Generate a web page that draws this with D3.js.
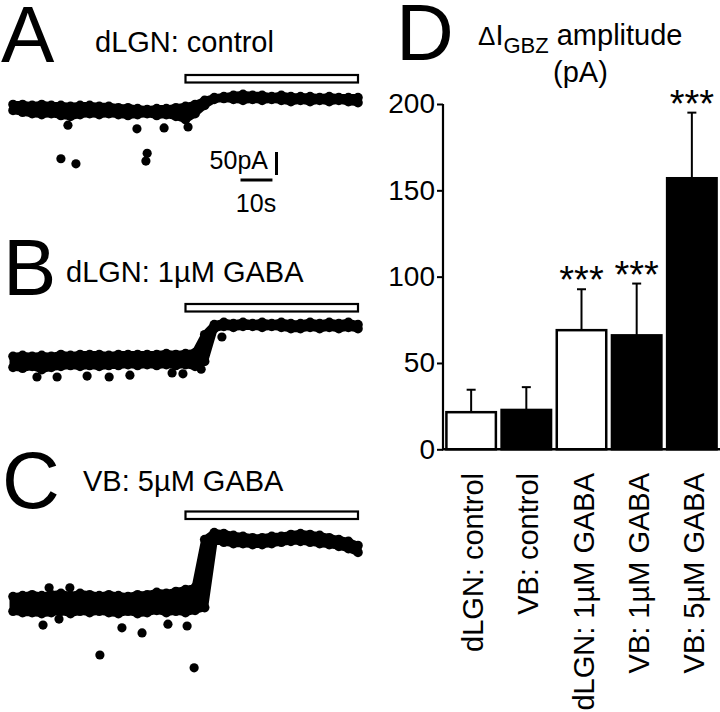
<!DOCTYPE html>
<html><head><meta charset="utf-8">
<script src="https://cdn.jsdelivr.net/npm/d3@7"></script>
<style>
body{margin:0;background:#fff}
svg{display:block}
text{font-family:"Liberation Sans",Arial,sans-serif;fill:#000}
</style>
</head><body>
<svg id="c" width="720" height="712"></svg>
<script>
// ---------- trace data (time in s, current in pA relative to baseline) ----------
const sampleTimes = [0,3,6,9,12,15,18,21,24,27,30,33,36,39,42,45,48,51,54,57,60,63,66,69,72,75,78,81,84,87,90,93,96,99,102,105,108];
const traceA_hi = [12,12,10,12,10,10,8,10,10,8,8,5,5,3,1,3,3,5,8,12,21,27,29,32,34,32,32,29,32,29,29,29,27,29,27,27,27];
const traceA_lo = [-1,-5,-8,-10,-8,-12,-14,-10,-8,-10,-8,-10,-12,-10,-8,-12,-10,-14,-21,-8,10,23,25,23,21,23,21,23,21,18,21,18,21,18,21,18,16];
const traceB_hi = [8,10,8,10,8,12,10,12,12,12,10,12,12,12,12,12,14,12,14,16,55,77,82,79,82,79,82,79,82,79,79,82,79,82,79,82,77];
const traceB_lo = [-16,-18,-14,-21,-16,-14,-12,-14,-12,-14,-12,-12,-10,-12,-10,-12,-10,-12,-10,-14,-3,68,73,71,73,73,71,73,71,68,68,71,68,71,68,71,68];
const traceC_hi = [14,16,18,16,18,21,16,21,18,16,18,16,14,18,18,23,21,25,29,34,138,153,151,147,145,142,142,145,145,149,151,149,147,142,138,134,125];
const traceC_lo = [-18,-21,-21,-23,-21,-18,-23,-18,-21,-18,-21,-23,-18,-23,-21,-16,-21,-18,-21,-16,-10,136,132,129,129,127,127,129,132,134,134,132,129,127,123,118,110];
const outliersA = [[17.2,-33],[38.8,-41],[47.3,-39],[54.8,-37],[15.0,-106],[19.7,-117],[42.0,-94],[41.6,-111]];
const outliersB = [[7.5,-37],[13.8,-37],[23.2,-35],[30.1,-37],[36.6,-33],[49.8,-28],[53.2,-30],[58.9,-20],[65.4,50]];
const outliersC = [[9.4,-48],[14.4,-35],[27.2,-113],[34.1,-54],[40.4,-65],[48.5,-46],[54.5,-50],[56.7,-141],[60.4,65],[60.4,89],[11.3,33],[17.8,33]];
const drugStart = 54, drugEnd = 108;
const scaleBarPA = 50, scaleBarS = 10;
const traceTitles = ["dLGN: control","dLGN: 1\u00B5M GABA","VB: 5\u00B5M GABA"];
const panelLetters = ["A","B","C","D"];

// ---------- bar chart data ----------
const categories = ["dLGN: control","VB: control","dLGN: 1\u00B5M GABA","VB: 1\u00B5M GABA","VB: 5\u00B5M GABA"];
const means = [21.5,22.8,69,66,157];
const sems = [13,13.2,23.7,30,38];
const filled = [false,true,false,true,true];
const significance = ["","","***","***","***"];
const yTicks = [0,50,100,150,200];

const svg = d3.select("#c");

// ---------- traces ----------
const x = d3.scaleLinear().domain([0,108]).range([13,358]);
const panels = [
  {hi:traceA_hi, lo:traceA_lo, out:outliersA, y0:110, barY:75, title:traceTitles[0], tx:95, ty:52, letter:"A", lx:1, ly:62},
  {hi:traceB_hi, lo:traceB_lo, out:outliersB, y0:360, barY:304, title:traceTitles[1], tx:66, ty:282, letter:"B", lx:3, ly:295},
  {hi:traceC_hi, lo:traceC_lo, out:outliersC, y0:603, barY:511.5, title:traceTitles[2], tx:83, ty:491, letter:"C", lx:2, ly:508}
];
const pxPer50 = 23;
panels.forEach(p => {
  const y = d3.scaleLinear().domain([0,50]).range([p.y0, p.y0 - pxPer50]);
  const g = svg.append("g");
  const pts = sampleTimes.map((t,i)=>({t, hi:p.hi[i], lo:p.lo[i]}));
  g.append("path").datum(pts)
    .attr("d", d3.area().x(d=>x(d.t)).y0(d=>y(d.lo)).y1(d=>y(d.hi)))
    .attr("fill","#000").attr("stroke","#000").attr("stroke-width",7).attr("stroke-linejoin","round");
  g.selectAll("circle.h").data(pts).join("circle").attr("cx",d=>x(d.t)).attr("cy",d=>y(d.hi)).attr("r",4.8);
  g.selectAll("circle.l").data(pts).join("circle").attr("class","l").attr("cx",d=>x(d.t)).attr("cy",d=>y(d.lo)).attr("r",4.8);
  g.selectAll("circle.o").data(p.out).join("circle").attr("class","o").attr("cx",d=>x(d[0])).attr("cy",d=>y(d[1])).attr("r",4.6);
  svg.append("rect").attr("x",x(drugStart)).attr("y",p.barY).attr("width",x(drugEnd)-x(drugStart)).attr("height",7.5)
    .attr("fill","#fff").attr("stroke","#000").attr("stroke-width",2.2);
  svg.append("text").attr("x",p.tx).attr("y",p.ty).attr("font-size",29).text(p.title);
  svg.append("text").attr("x",p.lx).attr("y",p.ly).attr("font-size",80).text(p.letter);
  p.yScale = y;
});

// scale bars (panel A)
{
  const y = panels[0].yScale;
  const vx = 276.5, vBottom = 175;
  svg.append("line").attr("x1",vx).attr("x2",vx).attr("y1",vBottom).attr("y2",vBottom-(y(0)-y(scaleBarPA)))
    .attr("stroke","#000").attr("stroke-width",3);
  const hx0 = 240.5;
  svg.append("line").attr("x1",hx0).attr("x2",hx0 + x(scaleBarS)-x(0)).attr("y1",180).attr("y2",180)
    .attr("stroke","#000").attr("stroke-width",3);
  svg.append("text").attr("x",268).attr("y",169).attr("font-size",25).attr("text-anchor","end").text(scaleBarPA+"pA");
  svg.append("text").attr("x",256).attr("y",212).attr("font-size",25).attr("text-anchor","middle").text(scaleBarS+"s");
}

// ---------- bar chart ----------
const bx = d3.scaleBand().domain(categories).range([443,720]).paddingInner(0.06).paddingOuter(0.04);
const by = d3.scaleLinear().domain([0,200]).range([449.3,104]);
const gD = svg.append("g");
const yAxis = d3.axisLeft(by).tickValues(yTicks).tickSize(6).tickPadding(2);
const ax = gD.append("g").attr("transform","translate(443,0)").call(yAxis);
ax.selectAll(".tick line").attr("stroke","#000").attr("stroke-width",2);
ax.selectAll(".tick text").attr("font-size",28).attr("font-family","Liberation Sans, Arial, sans-serif").attr("fill","#000");
ax.select(".domain").attr("stroke","#000").attr("stroke-width",2.2).attr("d","M0,104V449.3");

const bars = categories.map((c,i)=>({c, m:means[i], s:sems[i], f:filled[i], sig:significance[i]}));
// error bars
gD.selectAll("line.err").data(bars).join("line").attr("class","err")
  .attr("x1",d=>bx(d.c)+bx.bandwidth()/2).attr("x2",d=>bx(d.c)+bx.bandwidth()/2)
  .attr("y1",d=>by(d.m)).attr("y2",d=>by(d.m+d.s)).attr("stroke","#000").attr("stroke-width",2);
gD.selectAll("line.cap").data(bars).join("line").attr("class","cap")
  .attr("x1",d=>bx(d.c)+bx.bandwidth()/2-4.5).attr("x2",d=>bx(d.c)+bx.bandwidth()/2+4.5)
  .attr("y1",d=>by(d.m+d.s)).attr("y2",d=>by(d.m+d.s)).attr("stroke","#000").attr("stroke-width",2);
gD.selectAll("rect.bar").data(bars).join("rect").attr("class","bar")
  .attr("x",d=>bx(d.c)+1.2).attr("width",bx.bandwidth()-2.4)
  .attr("y",d=>by(d.m)).attr("height",d=>by(0)-by(d.m))
  .attr("fill",d=>d.f?"#000":"#fff").attr("stroke","#000").attr("stroke-width",2.5);
// x axis line
gD.append("line").attr("x1",442).attr("x2",720).attr("y1",by(0)).attr("y2",by(0)).attr("stroke","#000").attr("stroke-width",2.5);
// significance stars
gD.selectAll("text.sig").data(bars).join("text").attr("class","sig")
  .attr("x",d=>bx(d.c)+bx.bandwidth()/2).attr("y",d=>by(d.m+d.s)+4)
  .attr("text-anchor","middle").attr("font-size",38).text(d=>d.sig);
// category labels
gD.selectAll("text.cat").data(bars).join("text").attr("class","cat")
  .attr("transform",d=>`translate(${bx(d.c)+bx.bandwidth()/2+12},473) rotate(-90)`)
  .attr("text-anchor","end").attr("font-size",29).text(d=>d.c);
// title
const title = gD.append("text").attr("x",478).attr("y",45).attr("font-size",29);
title.append("tspan").attr("font-size",26).text("\u0394");
title.append("tspan").text("I");
title.append("tspan").attr("font-size",22).attr("dy",8).text("GBZ");
title.append("tspan").attr("dy",-8).text(" amplitude");
gD.append("text").attr("x",553).attr("y",82).attr("font-size",29).text("(pA)");
gD.append("text").attr("x",396).attr("y",60).attr("font-size",80).text(panelLetters[3]);
</script>
</body></html>
